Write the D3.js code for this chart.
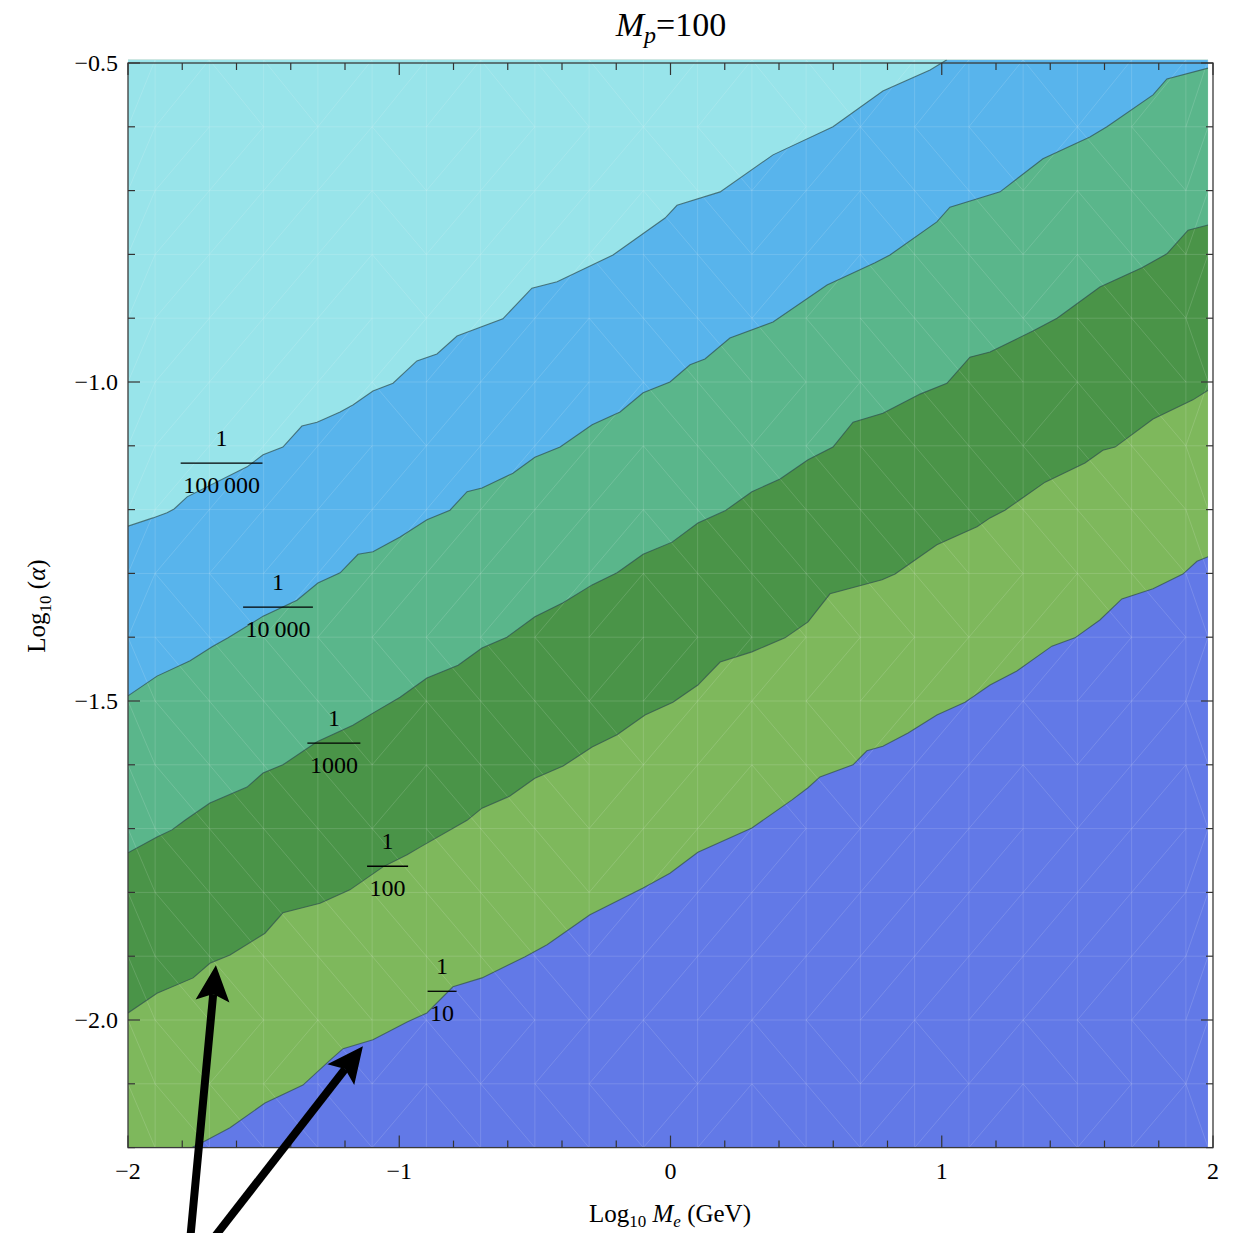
<!DOCTYPE html>
<html><head><meta charset="utf-8">
<script src="https://cdn.jsdelivr.net/npm/d3@7"></script>
<style>
body{margin:0;background:#fff}
svg{display:block}
text{font-family:"Liberation Serif","DejaVu Serif",serif;fill:#000}
</style>
</head><body>
<svg id="c" width="1243" height="1233"></svg>
<script>
// ---------- data ----------
const xDomain = [-2, 2];
const yDomain = [-2.2, -0.5];
const fillRight = 1.982, fillTop = -0.495;
const xMajor = [-2, -1, 0, 1, 2];
const xTickLabels = ["\u22122", "\u22121", "0", "1", "2"];
const yMajor = [-0.5, -1.0, -1.5, -2.0];
const yTickLabels = ["\u22120.5", "\u22121.0", "\u22121.5", "\u22122.0"];

// contour boundaries (Log10 Me, Log10 alpha), bottom region colour first
const regionColors = ["#6279e7", "#7eb85c", "#4a9448", "#5ab68b", "#58b4ec", "#98e4ea"];
const b10 = [[-1.764,-2.2],[-1.709,-2.188],[-1.624,-2.169],[-1.495,-2.130],[-1.355,-2.102],[-1.255,-2.063],[-1.207,-2.045],[-1.097,-2.031],[-0.971,-2.003],[-0.898,-1.989],[-0.802,-1.948],[-0.695,-1.934],[-0.536,-1.901],[-0.455,-1.882],[-0.297,-1.835],[-0.101,-1.793],[-0.002,-1.770],[0.101,-1.737],[0.300,-1.699],[0.448,-1.655],[0.507,-1.636],[0.551,-1.619],[0.673,-1.600],[0.724,-1.578],[0.783,-1.571],[0.876,-1.550],[0.982,-1.522],[1.086,-1.502],[1.178,-1.475],[1.277,-1.453],[1.406,-1.414],[1.491,-1.401],[1.583,-1.373],[1.664,-1.340],[1.779,-1.324],[1.889,-1.301],[1.941,-1.281],[1.982,-1.274]];
const b100 = [[-2.000,-1.989],[-1.893,-1.958],[-1.760,-1.934],[-1.698,-1.911],[-1.624,-1.898],[-1.495,-1.864],[-1.429,-1.832],[-1.292,-1.817],[-1.182,-1.796],[-1.060,-1.760],[-0.971,-1.741],[-0.923,-1.729],[-0.750,-1.687],[-0.695,-1.668],[-0.592,-1.649],[-0.500,-1.621],[-0.396,-1.602],[-0.289,-1.572],[-0.197,-1.553],[-0.094,-1.522],[0.009,-1.502],[0.101,-1.475],[0.183,-1.439],[0.300,-1.423],[0.422,-1.401],[0.507,-1.376],[0.588,-1.332],[0.780,-1.310],[0.828,-1.301],[0.982,-1.255],[1.130,-1.227],[1.178,-1.213],[1.233,-1.201],[1.381,-1.157],[1.528,-1.127],[1.594,-1.107],[1.639,-1.102],[1.779,-1.058],[1.926,-1.028],[1.982,-1.013]];
const b1000 = [[-2.000,-1.738],[-1.893,-1.713],[-1.838,-1.702],[-1.790,-1.687],[-1.698,-1.660],[-1.561,-1.635],[-1.502,-1.613],[-1.429,-1.600],[-1.303,-1.564],[-1.171,-1.538],[-1.097,-1.519],[-0.997,-1.494],[-0.898,-1.464],[-0.783,-1.444],[-0.695,-1.417],[-0.603,-1.400],[-0.500,-1.368],[-0.396,-1.346],[-0.289,-1.318],[-0.197,-1.299],[-0.101,-1.270],[0.006,-1.251],[0.101,-1.221],[0.201,-1.202],[0.300,-1.172],[0.404,-1.152],[0.507,-1.122],[0.599,-1.102],[0.673,-1.063],[0.783,-1.049],[0.920,-1.019],[1.019,-1.002],[1.104,-0.961],[1.178,-0.953],[1.336,-0.920],[1.425,-0.900],[1.583,-0.851],[1.738,-0.821],[1.830,-0.799],[1.908,-0.762],[1.982,-0.754]];
const b10000 = [[-2.000,-1.492],[-1.893,-1.461],[-1.771,-1.437],[-1.690,-1.415],[-1.631,-1.401],[-1.502,-1.367],[-1.377,-1.342],[-1.300,-1.315],[-1.218,-1.299],[-1.152,-1.270],[-1.097,-1.266],[-0.997,-1.243],[-0.898,-1.216],[-0.813,-1.201],[-0.750,-1.172],[-0.695,-1.166],[-0.581,-1.143],[-0.500,-1.118],[-0.407,-1.102],[-0.289,-1.067],[-0.186,-1.047],[-0.101,-1.017],[-0.002,-1.000],[0.072,-0.973],[0.127,-0.964],[0.219,-0.931],[0.378,-0.906],[0.577,-0.848],[0.754,-0.813],[0.809,-0.801],[0.982,-0.749],[1.030,-0.726],[1.215,-0.702],[1.373,-0.650],[1.546,-0.616],[1.609,-0.600],[1.779,-0.550],[1.830,-0.525],[1.982,-0.508]];
const b100000 = [[-2.000,-1.226],[-1.908,-1.213],[-1.856,-1.205],[-1.830,-1.199],[-1.782,-1.180],[-1.561,-1.133],[-1.502,-1.114],[-1.429,-1.102],[-1.359,-1.069],[-1.303,-1.063],[-1.218,-1.047],[-1.171,-1.036],[-1.097,-1.014],[-1.023,-1.002],[-0.935,-0.967],[-0.861,-0.956],[-0.787,-0.928],[-0.618,-0.901],[-0.511,-0.853],[-0.418,-0.843],[-0.212,-0.801],[-0.020,-0.743],[0.024,-0.723],[0.183,-0.702],[0.378,-0.644],[0.599,-0.600],[0.783,-0.544],[0.957,-0.511],[1.019,-0.495]];
const boundaries = [b10, b100, b1000, b10000, b100000];

// contour labels: numerator, denominator, position of the fraction bar
const labelNum = ["1", "1", "1", "1", "1"];
const labelDen = ["10", "100", "1000", "10\u2009000", "100\u2009000"];
const labelPos = [[-0.842,-1.955],[-1.043,-1.759],[-1.241,-1.566],[-1.447,-1.353],[-1.655,-1.127]];

// annotation arrows: [tail, tip]
const arrows = [
  [[-1.771,-2.345],[-1.676,-1.914]],
  [[-1.690,-2.345],[-1.134,-2.041]]
];

// mesh vertices (decorative triangulation)
const meshX = [-2, -1.9, -1.7, -1.5, -1.3, -1.1, -0.9, -0.7, -0.5, -0.3, -0.1, 0.1, 0.3, 0.5, 0.7, 0.9, 1.1, 1.3, 1.5, 1.7, 1.9, 1.982];
const meshY = [-0.495, -0.6, -0.7, -0.8, -0.9, -1.0, -1.1, -1.2, -1.3, -1.4, -1.5, -1.6, -1.7, -1.8, -1.9, -2.0, -2.1, -2.2];

// ---------- drawing ----------
const svg = d3.select("#c");
const x = d3.scaleLinear().domain(xDomain).range([128, 1213]);
const y = d3.scaleLinear().domain(yDomain).range([1147.6, 63]);

svg.append("defs").append("clipPath").attr("id","fc").append("rect")
  .attr("x", x(-2)).attr("y", y(fillTop))
  .attr("width", x(fillRight) - x(-2)).attr("height", y(-2.2) - y(fillTop));

const plot = svg.append("g").attr("clip-path","url(#fc)");
plot.append("rect")
  .attr("x", x(-2)).attr("y", y(fillTop))
  .attr("width", x(fillRight) - x(-2)).attr("height", y(-2.2) - y(fillTop))
  .attr("fill", regionColors[0]);

const area = d3.area().x(d => x(d[0])).y0(y(fillTop)).y1(d => y(d[1]));
boundaries.forEach((b, i) => {
  let pts = b.slice();
  if (pts[0][0] > -2) pts = [[-2, -2.2], [pts[0][0] - 1e-6, -2.2]].concat(pts);
  plot.append("path").attr("d", area(pts)).attr("fill", regionColors[i + 1]);
});

// mesh
const mpts = [];
meshX.forEach(mx => meshY.forEach(my => mpts.push([x(mx), y(my)])));
const del = d3.Delaunay.from(mpts);
plot.append("path").attr("d", del.render())
  .attr("fill","none").attr("stroke","#ffffff").attr("stroke-opacity",0.14).attr("stroke-width",1);

// contour lines
const line = d3.line().x(d => x(d[0])).y(d => y(d[1]));
boundaries.forEach(b => {
  plot.append("path").attr("d", line(b)).attr("fill","none")
    .attr("stroke","#2f4f4f").attr("stroke-opacity",0.7).attr("stroke-width",1.1);
});

// frame
svg.append("rect").attr("x", x(-2)).attr("y", y(-0.5))
  .attr("width", x(2) - x(-2)).attr("height", y(-2.2) - y(-0.5))
  .attr("fill","none").attr("stroke","#3a3a3a").attr("stroke-width",1.3);

const isMajor = (v, arr) => arr.some(m => Math.abs(m - v) < 1e-6);
const tk = svg.append("g").attr("stroke","#333").attr("stroke-width",1.2);
x.ticks(20).forEach(v => {
  const L = isMajor(v, xMajor) ? 12 : 7;
  tk.append("line").attr("x1",x(v)).attr("x2",x(v)).attr("y1",y(-2.2)).attr("y2",y(-2.2)-L);
  tk.append("line").attr("x1",x(v)).attr("x2",x(v)).attr("y1",y(-0.5)).attr("y2",y(-0.5)+L);
});
y.ticks(17).forEach(v => {
  const L = isMajor(v, yMajor) ? 12 : 7;
  tk.append("line").attr("y1",y(v)).attr("y2",y(v)).attr("x1",x(-2)).attr("x2",x(-2)+L);
  tk.append("line").attr("y1",y(v)).attr("y2",y(v)).attr("x1",x(2)).attr("x2",x(2)-L);
});

// tick labels
xMajor.forEach((v, i) => {
  svg.append("text").attr("x", x(v)).attr("y", 1179).attr("text-anchor","middle")
    .style("font-size","24px").text(xTickLabels[i]);
});
yMajor.forEach((v, i) => {
  svg.append("text").attr("x", 118).attr("y", y(v) + 8).attr("text-anchor","end")
    .style("font-size","24px").text(yTickLabels[i]);
});

// title
const t = svg.append("text").attr("x", 671).attr("y", 36).attr("text-anchor","middle").style("font-size","34px");
t.append("tspan").attr("font-style","italic").text("M");
t.append("tspan").attr("font-style","italic").style("font-size","24px").attr("dy",7).text("p");
t.append("tspan").attr("dy",-7).text("=100");

// x axis title
const xt = svg.append("text").attr("x", 670).attr("y", 1222).attr("text-anchor","middle").style("font-size","25px");
xt.append("tspan").text("Log");
xt.append("tspan").style("font-size","17px").attr("dy",5).text("10");
xt.append("tspan").attr("dy",-5).text("\u00a0");
xt.append("tspan").attr("font-style","italic").text("M");
xt.append("tspan").attr("font-style","italic").style("font-size","17px").attr("dy",5).text("e");
xt.append("tspan").attr("dy",-5).text("\u00a0(GeV)");

// y axis title
const yt = svg.append("text").attr("transform","translate(45,606) rotate(-90)").attr("text-anchor","middle").style("font-size","25px");
yt.append("tspan").text("Log");
yt.append("tspan").style("font-size","17px").attr("dy",6).text("10");
yt.append("tspan").attr("dy",-6).text("\u00a0(");
yt.append("tspan").attr("font-style","italic").text("\u03b1");
yt.append("tspan").text(")");

// contour labels
labelPos.forEach((p, i) => {
  const cx = x(p[0]), cy = y(p[1]);
  const g = svg.append("g");
  g.append("text").attr("x", cx).attr("y", cy - 17).attr("text-anchor","middle").style("font-size","24px").text(labelNum[i]);
  const den = g.append("text").attr("x", cx).attr("y", cy + 30).attr("text-anchor","middle").style("font-size","24px").text(labelDen[i]);
  const w = den.node().getComputedTextLength() + 5;
  g.append("line").attr("x1", cx - w/2).attr("x2", cx + w/2).attr("y1", cy).attr("y2", cy)
    .attr("stroke","#000").attr("stroke-width",1.3);
});

// arrows
arrows.forEach(a => {
  const x0 = x(a[0][0]), y0 = y(a[0][1]), x1 = x(a[1][0]), y1 = y(a[1][1]);
  const dx = x1 - x0, dy = y1 - y0, len = Math.hypot(dx, dy);
  const ux = dx/len, uy = dy/len, nx = -uy, ny = ux;
  const hl = 36, hw = 17, notch = 7;
  const bx = x1 - ux*hl, by = y1 - uy*hl;
  svg.append("line").attr("x1", x0).attr("y1", y0)
    .attr("x2", bx + ux*notch).attr("y2", by + uy*notch)
    .attr("stroke","#000").attr("stroke-width",8);
  svg.append("path").attr("d", d3.line()([
    [x1, y1], [bx + nx*hw, by + ny*hw], [bx + ux*notch, by + uy*notch], [bx - nx*hw, by - ny*hw]
  ]) + "Z").attr("fill","#000");
});
</script>
</body></html>
